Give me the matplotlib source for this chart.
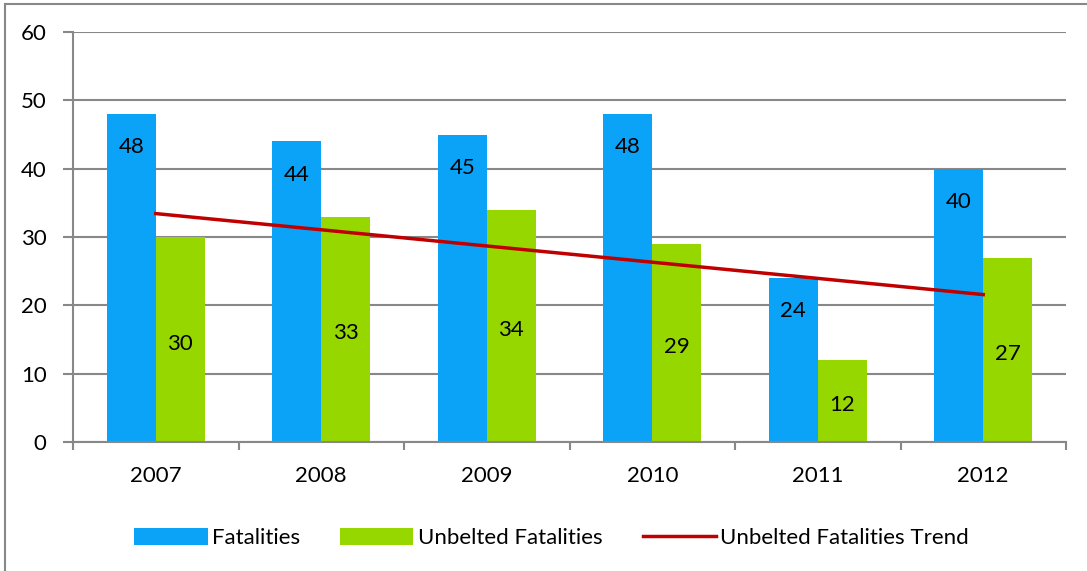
import numpy as np
import matplotlib.pyplot as plt
from matplotlib.patches import Rectangle

years = ['2007', '2008', '2009', '2010', '2011', '2012']
fatalities = [48, 44, 45, 48, 24, 40]
unbelted = [30, 33, 34, 29, 12, 27]

plt.rcParams['font.family'] = ['Lato', 'DejaVu Sans']

fig = plt.figure(figsize=(10.87, 5.71), dpi=100)
ax = fig.add_axes([73 / 1087, 1 - 442 / 571, (1066 - 73) / 1087, (442 - 32) / 571])

x = np.arange(len(years))
w = 0.295
b1 = ax.bar(x - w / 2, fatalities, w, color='#0BA3F7', label='Fatalities', zorder=2)
b2 = ax.bar(x + w / 2, unbelted, w, color='#97D700', label='Unbelted Fatalities', zorder=2)

# linear trend of unbelted fatalities
k, c = np.polyfit(x, unbelted, 1)
tr, = ax.plot(x, k * x + c, color='#C00000', lw=2.5, label='Unbelted Fatalities Trend', zorder=3)

fs = 16
for xi, v in zip(x, fatalities):
    ax.annotate(str(v), (xi - w / 2, v), xytext=(0, -24), textcoords='offset points',
                ha='center', va='center', fontsize=fs, zorder=4)
for xi, v in zip(x, unbelted):
    ax.text(xi + w / 2, v / 2 - 0.6, str(v), ha='center', va='center', fontsize=fs, zorder=4)

ax.set_xlim(-0.5, len(years) - 0.5)
ax.set_ylim(0, 60)
ax.set_yticks(range(0, 61, 10))
ax.set_xticks(x)
ax.set_xticklabels(years)
ax.set_xticks(np.arange(-0.5, len(years), 1), minor=True)
ax.tick_params(axis='x', which='major', length=0, pad=17, labelsize=fs)
ax.tick_params(axis='x', which='minor', length=6, color='#888888', width=1.5)
ax.tick_params(axis='y', length=7, color='#888888', width=1.5, labelsize=fs, pad=12)
ax.grid(axis='y', color='#888888', lw=1.5, zorder=1)
ax.set_axisbelow(True)
for s in ['top', 'right']:
    ax.spines[s].set_visible(False)
for s in ['left', 'bottom']:
    ax.spines[s].set_color('#888888')
    ax.spines[s].set_linewidth(1.5)

ax.legend([b1, b2, tr], ['Fatalities', 'Unbelted Fatalities', 'Unbelted Fatalities Trend'],
          loc='center', bbox_to_anchor=(0.482, -0.235), ncol=3, frameon=False,
          fontsize=fs, handlelength=3.3, handleheight=0.75, columnspacing=1.8, handletextpad=0.2)

fig.patches.append(Rectangle((5 / 1087, -0.1), 1.2, 1.1 - 3.5 / 571, transform=fig.transFigure,
                             fill=False, ec='#888888', lw=1.5))

fig.savefig('out.png', dpi=100)
